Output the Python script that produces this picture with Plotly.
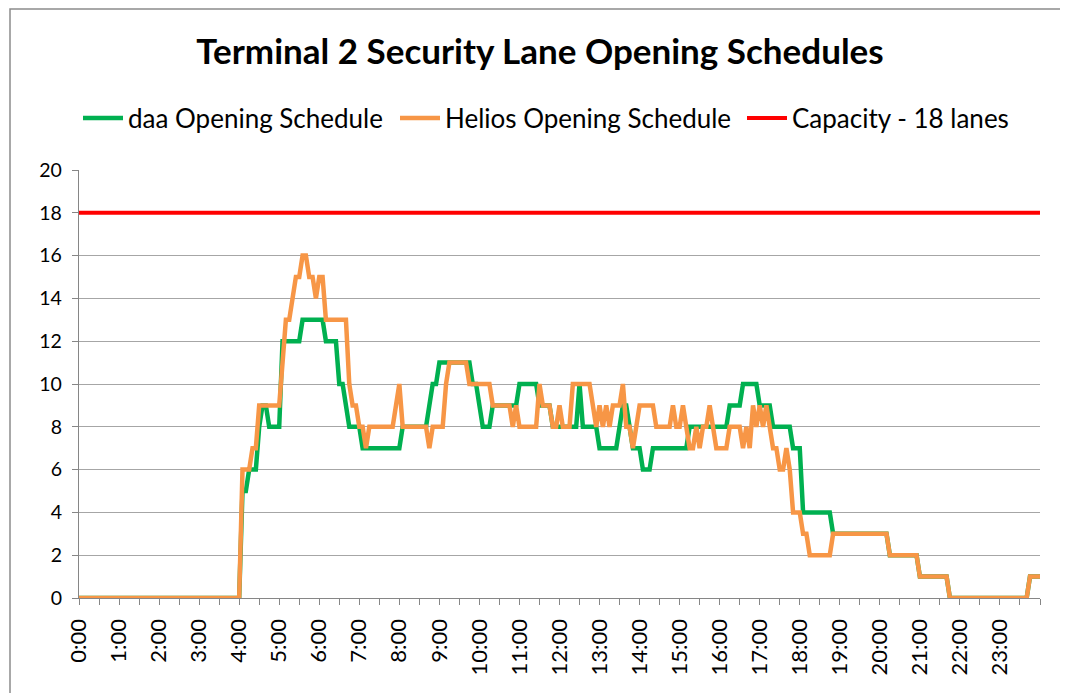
import plotly.graph_objects as go

# ---- data: lanes open, 5-minute intervals, 0:00 .. 24:00 (one row per hour) ----
step_minutes = 5
hour_labels = [f"{h}:00" for h in range(24)]

daa_schedule = [
    0, 0, 0, 0, 0, 0, 0, 0, 0, 0, 0, 0,          # 0:00
    0, 0, 0, 0, 0, 0, 0, 0, 0, 0, 0, 0,          # 1:00
    0, 0, 0, 0, 0, 0, 0, 0, 0, 0, 0, 0,          # 2:00
    0, 0, 0, 0, 0, 0, 0, 0, 0, 0, 0, 0,          # 3:00
    0, 5, 5, 6, 6, 6, 8, 9, 9, 8, 8, 8,          # 4:00
    8, 12, 12, 12, 12, 12, 12, 13, 13, 13, 13, 13,  # 5:00
    13, 13, 12, 12, 12, 12, 10, 10, 9, 8, 8, 8,  # 6:00
    8, 7, 7, 7, 7, 7, 7, 7, 7, 7, 7, 7,          # 7:00
    7, 8, 8, 8, 8, 8, 8, 8, 8, 9, 10, 10,        # 8:00
    11, 11, 11, 11, 11, 11, 11, 11, 11, 11, 10, 10,  # 9:00
    9, 8, 8, 8, 9, 9, 9, 9, 9, 9, 9, 9,          # 10:00
    10, 10, 10, 10, 10, 10, 9, 9, 9, 9, 8, 8,    # 11:00
    8, 8, 8, 8, 8, 8, 10, 8, 8, 8, 8, 8,         # 12:00
    7, 7, 7, 7, 7, 7, 8, 9, 9, 8, 7, 7,          # 13:00
    7, 6, 6, 6, 7, 7, 7, 7, 7, 7, 7, 7,          # 14:00
    7, 7, 7, 8, 8, 8, 8, 8, 8, 8, 8, 8,          # 15:00
    8, 8, 8, 9, 9, 9, 9, 10, 10, 10, 10, 10,     # 16:00
    9, 9, 9, 9, 8, 8, 8, 8, 8, 8, 7, 7,          # 17:00
    7, 4, 4, 4, 4, 4, 4, 4, 4, 4, 3, 3,          # 18:00
    3, 3, 3, 3, 3, 3, 3, 3, 3, 3, 3, 3,          # 19:00
    3, 3, 3, 2, 2, 2, 2, 2, 2, 2, 2, 2,          # 20:00
    1, 1, 1, 1, 1, 1, 1, 1, 1, 0, 0, 0,          # 21:00
    0, 0, 0, 0, 0, 0, 0, 0, 0, 0, 0, 0,          # 22:00
    0, 0, 0, 0, 0, 0, 0, 0, 0, 1, 1, 1,          # 23:00
    1,                                           # 24:00
]

helios_schedule = [
    0, 0, 0, 0, 0, 0, 0, 0, 0, 0, 0, 0,          # 0:00
    0, 0, 0, 0, 0, 0, 0, 0, 0, 0, 0, 0,          # 1:00
    0, 0, 0, 0, 0, 0, 0, 0, 0, 0, 0, 0,          # 2:00
    0, 0, 0, 0, 0, 0, 0, 0, 0, 0, 0, 0,          # 3:00
    0, 6, 6, 6, 7, 7, 9, 9, 9, 9, 9, 9,          # 4:00
    9, 11, 13, 13, 14, 15, 15, 16, 16, 15, 15, 14,  # 5:00
    15, 15, 13, 13, 13, 13, 13, 13, 13, 10, 9, 9,   # 6:00
    8, 8, 7, 8, 8, 8, 8, 8, 8, 8, 8, 9,          # 7:00
    10, 8, 8, 8, 8, 8, 8, 8, 8, 7, 8, 8,         # 8:00
    8, 8, 10, 11, 11, 11, 11, 11, 11, 10, 10, 10,  # 9:00
    10, 10, 10, 10, 9, 9, 9, 9, 9, 9, 8, 9,      # 10:00
    8, 8, 8, 8, 8, 8, 10, 9, 9, 9, 8, 8,         # 11:00
    9, 8, 8, 8, 10, 10, 10, 10, 10, 10, 9, 8,    # 12:00
    9, 8, 9, 8, 9, 9, 9, 10, 8, 8, 7, 8,         # 13:00
    9, 9, 9, 9, 9, 8, 8, 8, 8, 8, 9, 8,          # 14:00
    8, 9, 8, 7, 7, 8, 7, 8, 8, 9, 8, 7,          # 15:00
    7, 7, 7, 8, 8, 8, 8, 7, 8, 7, 9, 8,          # 16:00
    9, 8, 9, 8, 7, 7, 6, 6, 7, 6, 4, 4,          # 17:00
    4, 3, 3, 2, 2, 2, 2, 2, 2, 2, 3, 3,          # 18:00
    3, 3, 3, 3, 3, 3, 3, 3, 3, 3, 3, 3,          # 19:00
    3, 3, 3, 2, 2, 2, 2, 2, 2, 2, 2, 2,          # 20:00
    1, 1, 1, 1, 1, 1, 1, 1, 1, 0, 0, 0,          # 21:00
    0, 0, 0, 0, 0, 0, 0, 0, 0, 0, 0, 0,          # 22:00
    0, 0, 0, 0, 0, 0, 0, 0, 0, 1, 1, 1,          # 23:00
    1,                                           # 24:00
]

capacity_lanes = 18

# time axis in hours (regular 5-minute grid)
times_h = [i * step_minutes / 60 for i in range(len(daa_schedule))]
capacity_series = [capacity_lanes for _ in times_h]

FONT = "Lato, Calibri, Arial, sans-serif"

# figure is placed 8px from the page corner, so size/margins compensate
W, H = 1060, 685
PL, PR, PT, PB = 71, 28, 162, 95
plot_w = W - PL - PR
plot_h = H - PT - PB


def px_x(screen_x):
    return (screen_x - 8 - PL) / plot_w


def px_y(screen_y):
    return (H - PB - (screen_y - 8)) / plot_h


def legend_box(screen_x):
    return dict(orientation="h", x=px_x(screen_x), xanchor="left",
                y=px_y(118), yanchor="middle", itemwidth=40,
                font=dict(size=26, family=FONT, color="black"),
                bgcolor="rgba(0,0,0,0)", itemclick=False)


fig = go.Figure()
fig.add_trace(go.Scatter(x=times_h, y=daa_schedule, mode="lines",
                         name="daa Opening Schedule", legend="legend",
                         line=dict(color="#00B050", width=4.5)))
fig.add_trace(go.Scatter(x=times_h, y=helios_schedule, mode="lines",
                         name="Helios Opening Schedule", legend="legend2",
                         line=dict(color="#F79646", width=4.5)))
fig.add_trace(go.Scatter(x=times_h, y=capacity_series, mode="lines",
                         name=f"Capacity - {capacity_lanes} lanes", legend="legend3",
                         line=dict(color="#FF0000", width=4)))

fig.update_layout(
    width=W, height=H,
    paper_bgcolor="white", plot_bgcolor="white",
    margin=dict(l=PL, r=PR, t=PT, b=PB),
    font=dict(family=FONT, color="black"),
    title=dict(text="<b>Terminal 2 Security Lane Opening Schedules</b>",
               x=(540 - 8) / W, xanchor="center", y=1 - (52 - 8) / H, yanchor="middle",
               font=dict(size=35, family=FONT, color="black")),
    legend=legend_box(78),
    legend2=legend_box(395),
    legend3=legend_box(742),
    showlegend=True,
    shapes=[dict(type="rect", xref="paper", yref="paper",
                 x0=px_x(10), x1=px_x(1062),
                 y0=px_y(720), y1=px_y(9),
                 line=dict(color="#8C8C8C", width=1.5), layer="below")],
)

fig.update_xaxes(
    range=[0, 24], tickmode="array",
    tickvals=list(range(24)), ticktext=hour_labels, tickangle=-90,
    ticks="outside", ticklen=6, tickcolor="#868686",
    minor=dict(tick0=0, dtick=0.5, ticks="outside", ticklen=6, tickcolor="#868686", showgrid=False),
    showline=True, linecolor="#868686", linewidth=1.3,
    showgrid=False, zeroline=False,
    tickfont=dict(size=22, family=FONT, color="black"),
    ticklabelstandoff=5,
)
fig.update_yaxes(
    range=[0, 20], tickmode="linear", tick0=0, dtick=2,
    ticks="outside", ticklen=6, tickcolor="#868686",
    showline=True, linecolor="#868686", linewidth=1.3,
    showgrid=True, gridcolor="#A6A6A6", gridwidth=1.2, zeroline=False,
    tickfont=dict(size=19.5, family=FONT, color="black"),
    ticklabelstandoff=6,
)

fig.write_html("out.html")
